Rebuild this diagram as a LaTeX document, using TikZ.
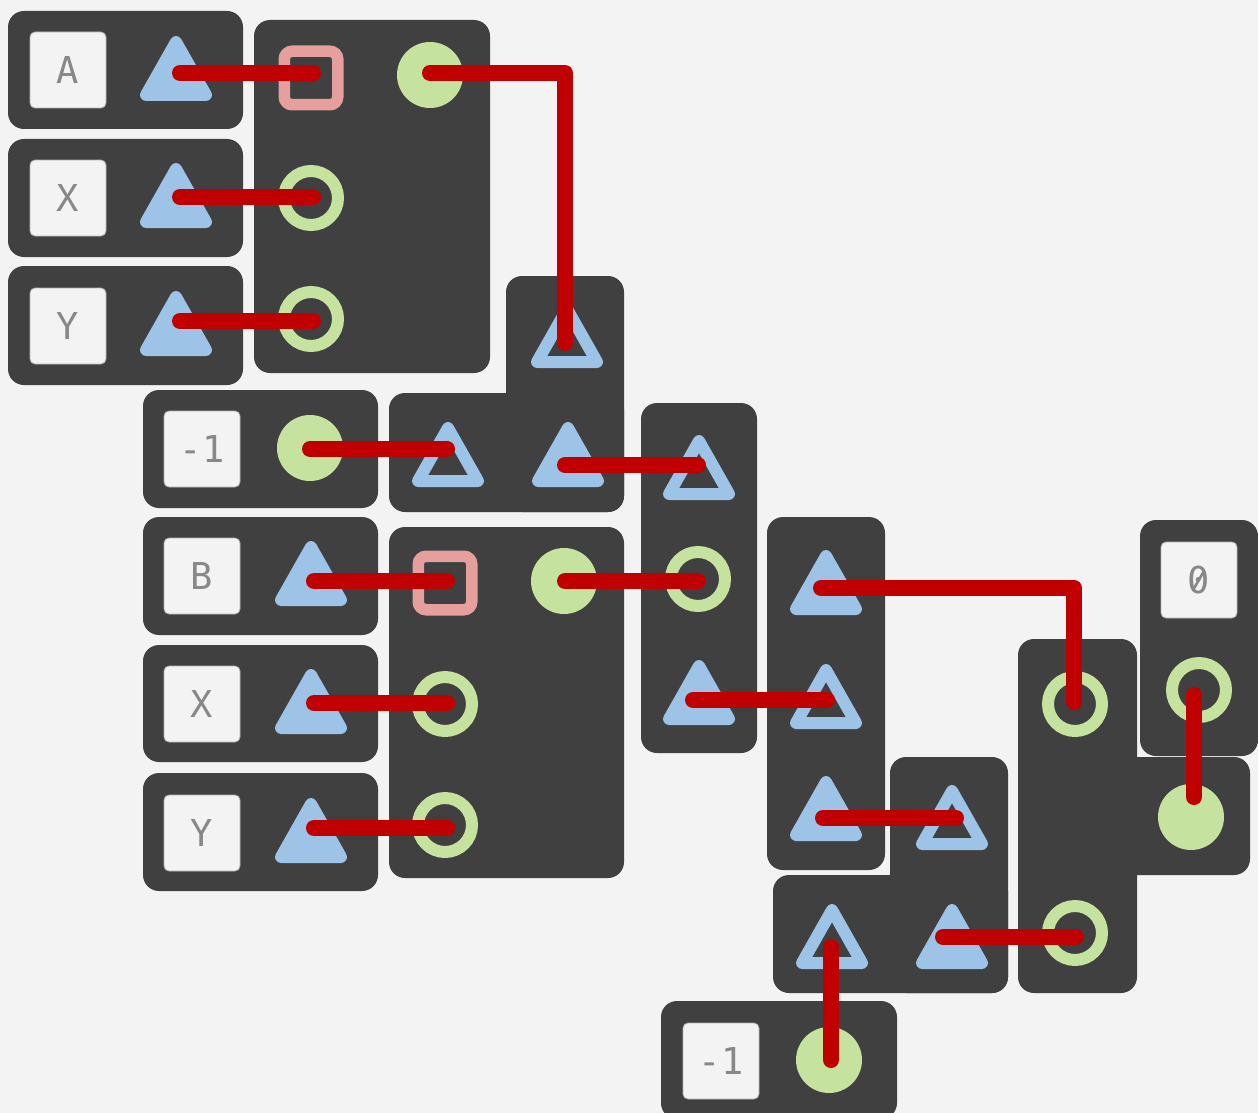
\documentclass[tikz,border=0pt]{standalone}
\usepackage{fontspec}
\newfontfamily\labelfont{DejaVu Sans Mono}

\definecolor{bgc}{HTML}{F3F3F3}
\definecolor{blockc}{HTML}{404040}
\definecolor{portblue}{HTML}{9DC3E6}
\definecolor{portgreen}{HTML}{C5E39F}
\definecolor{portpink}{HTML}{E5A09E}
\definecolor{wirered}{HTML}{C00000}
\definecolor{labelgray}{HTML}{888888}

\tikzset{
  block/.style={fill=blockc, rounded corners=16pt},
  lbl/.style={fill=bgc, draw=black!30, line width=0.8pt, rounded corners=5pt,
    minimum width=76pt, minimum height=76pt, inner sep=0pt, text=labelgray,
    font=\labelfont\fontsize{37}{37}\selectfont},
  tripath/.style={draw=portblue, line width=12pt, line join=round},
  ringport/.style={draw=portgreen, line width=12pt},
  sqport/.style={draw=portpink, line width=11.5pt, rounded corners=8pt},
  wire/.style={draw=wirered, line width=16pt, line cap=round, line join=round},
}

% block body: lower-left/upper-right corners in pixel units
\newcommand\blockrect[4]{\fill[block] (#1,#2) rectangle (#3,#4);}
% triangle ports: centre x and top edge
\newcommand\filltri[2]{\filldraw[tripath, fill=portblue]
  (#1,#2+7) -- (#1-30,#2+60) -- (#1+30,#2+60) -- cycle;}
\newcommand\hollowtri[2]{\draw[tripath]
  (#1,#2+7) -- (#1-30,#2+60) -- (#1+30,#2+60) -- cycle;}
% round ports
\newcommand\dotport[2]{\fill[portgreen] (#1,#2) circle[radius=33pt];}
\newcommand\ringp[2]{\draw[ringport] (#1,#2) circle[radius=27pt];}
% square port
\newcommand\sqp[2]{\draw[sqport] (#1-26.75,#2-26.75) rectangle (#1+26.75,#2+26.75);}

\begin{document}
\begin{tikzpicture}[x=1pt, y=-1pt]
\useasboundingbox (0,0) rectangle (1258,1113);
\fill[bgc] (0,0) rectangle (1258,1113);
\clip (0,0) rectangle (1258,1113);

% ---- blocks ----
\blockrect{8}{11}{243}{129}
\blockrect{8}{139}{243}{257}
\blockrect{8}{266}{243}{385}
\blockrect{254}{20}{490}{373}
\blockrect{506}{276}{624}{512}
\blockrect{389}{393}{624}{512}
\blockrect{143}{390}{378}{508}
\blockrect{143}{517}{378}{635}
\blockrect{389}{527}{624}{878}
\blockrect{143}{645}{378}{762}
\blockrect{143}{773}{378}{891}
\blockrect{641}{403}{757}{753}
\blockrect{767}{517}{885}{870}
\blockrect{890}{757}{1008}{993}
\blockrect{773}{875}{1008}{993}
\blockrect{1018}{639}{1137}{993}
\blockrect{1018}{757}{1250}{875}
\blockrect{1140}{520}{1258}{756}
\blockrect{661}{1001}{897}{1119}

% ---- constant labels ----
\node[lbl] (lA)  at (68,70)    {A};
\node[lbl] (lX1) at (68,198)   {X};
\node[lbl] (lY1) at (68,326)   {Y};
\node[lbl] (lm1) at (202,449)  {-1};
\node[lbl] (lB)  at (202,576)  {B};
\node[lbl] (lX2) at (202,704)  {X};
\node[lbl] (lY2) at (202,833)  {Y};
\node[lbl] (l0)  at (1199,580) {0};
\node[lbl] (lm2) at (721,1061) {-1};
% slashed zero
\draw[labelgray, line width=2.6pt, line cap=round]
  ([shift={(-6,10)}]l0.center) -- ([shift={(5,-9)}]l0.center);

% ---- triangle ports ----
\filltri{176}{35}
\filltri{176}{162}
\filltri{176}{290}
\filltri{568}{421}
\filltri{311}{540}
\filltri{311}{668}
\filltri{311}{797}
\filltri{699}{659}
\filltri{826}{549}
\filltri{826}{775}
\filltri{952}{903}
\hollowtri{567}{302}
\hollowtri{448}{421}
\hollowtri{699}{434}
\hollowtri{826}{663}
\hollowtri{952}{784}
\hollowtri{832}{903}

% ---- round ports ----
\dotport{430}{75}
\dotport{310}{448}
\dotport{564}{581}
\dotport{1191}{817}
\dotport{829}{1060}
\ringp{311}{198}
\ringp{311}{319}
\ringp{445}{704}
\ringp{445}{825}
\ringp{698}{579}
\ringp{1075}{704}
\ringp{1075}{933}
\ringp{1199}{690}

% ---- square ports ----
\sqp{311}{78}
\sqp{445}{583}

% ---- wire anchors ----
\coordinate (aOut)   at (180,73);   \coordinate (aIn)    at (313,73);
\coordinate (x1Out)  at (180,197);  \coordinate (x1In)   at (313,197);
\coordinate (y1Out)  at (180,321);  \coordinate (y1In)   at (313,321);
\coordinate (mux1Out) at (430,73);  \coordinate (cmpTop) at (565,343);
\coordinate (m1Out)  at (310,449);  \coordinate (cmpIn)  at (447,449);
\coordinate (cmpOut) at (565,465);  \coordinate (c3In)   at (698,465);
\coordinate (bOut)   at (314,581);  \coordinate (bIn)    at (447,581);
\coordinate (mux2Out) at (565,581); \coordinate (c3Mid)  at (698,581);
\coordinate (x2Out)  at (314,703);  \coordinate (x2In)   at (447,703);
\coordinate (y2Out)  at (314,828);  \coordinate (y2In)   at (447,828);
\coordinate (c4Top)  at (821,588);  \coordinate (c6Top)  at (1074,702);
\coordinate (c3Out)  at (693,700);  \coordinate (c4Mid)  at (827,700);
\coordinate (c4Out)  at (823,818);  \coordinate (c5Top)  at (956,818);
\coordinate (c5Out)  at (943,937);  \coordinate (c6Bot)  at (1076,937);
\coordinate (m2Out)  at (831,1060); \coordinate (c5In)   at (831,947);
\coordinate (zIn)    at (1194,695); \coordinate (c6Out)  at (1194,797);

% ---- wires ----
\draw[wire] (aOut) -- (aIn);
\draw[wire] (x1Out) -- (x1In);
\draw[wire] (y1Out) -- (y1In);
\draw[wire] (mux1Out) -| (cmpTop);
\draw[wire] (m1Out) -- (cmpIn);
\draw[wire] (cmpOut) -- (c3In);
\draw[wire] (bOut) -- (bIn);
\draw[wire] (mux2Out) -- (c3Mid);
\draw[wire] (x2Out) -- (x2In);
\draw[wire] (y2Out) -- (y2In);
\draw[wire] (c4Top) -| (c6Top);
\draw[wire] (c3Out) -- (c4Mid);
\draw[wire] (c4Out) -- (c5Top);
\draw[wire] (c5Out) -- (c6Bot);
\draw[wire] (m2Out) -- (c5In);
\draw[wire] (zIn) -- (c6Out);
\end{tikzpicture}
\end{document}
